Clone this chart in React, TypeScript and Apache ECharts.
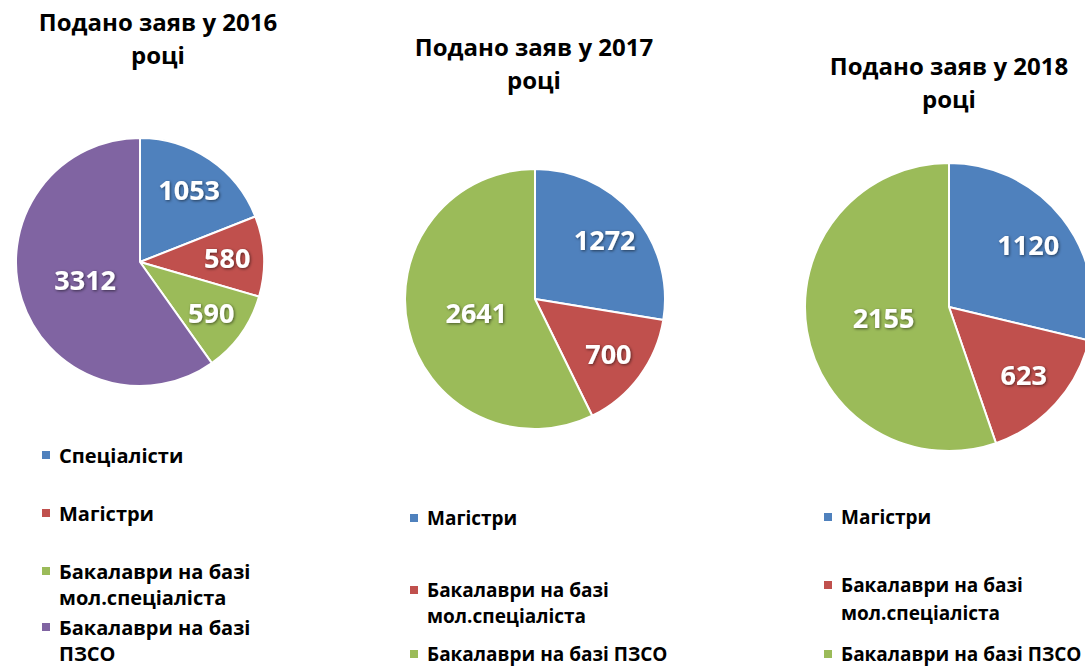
import React, { useEffect, useRef } from "react";
import * as echarts from "echarts";

// ---------- data ----------
const titles = ["Подано заяв у 2016\nроці", "Подано заяв у 2017\nроці", "Подано заяв у 2018\nроці"];

const categories2016 = ["Спеціалісти", "Магістри", "Бакалаври на базі мол.спеціаліста", "Бакалаври на базі ПЗСО"];
const values2016 = [1053, 580, 590, 3312];
const legendLines2016 = [["Спеціалісти"], ["Магістри"], ["Бакалаври на базі", "мол.спеціаліста"], ["Бакалаври на базі", "ПЗСО"]];

const categories2017 = ["Магістри", "Бакалаври на базі мол.спеціаліста", "Бакалаври на базі ПЗСО"];
const values2017 = [1272, 700, 2641];
const legendLines2017 = [["Магістри"], ["Бакалаври на базі", "мол.спеціаліста"], ["Бакалаври на базі ПЗСО"]];

const categories2018 = ["Магістри", "Бакалаври на базі мол.спеціаліста", "Бакалаври на базі ПЗСО"];
const values2018 = [1120, 623, 2155];
const legendLines2018 = [["Магістри"], ["Бакалаври на базі", "мол.спеціаліста"], ["Бакалаври на базі ПЗСО"]];

// ---------- styles / layout ----------
const colors4 = ["#4F81BD", "#C0504D", "#9BBB59", "#8064A2"];
const colors3 = ["#4F81BD", "#C0504D", "#9BBB59"];
const FONT = "'Open Sans', 'Noto Sans', 'DejaVu Sans', sans-serif";

type Panel = {
  left: number; width: number;
  categories: string[]; values: number[]; legendLines: string[][]; colors: string[]; title: string;
  center: [number, number]; r: number;
  titleX: number; titleTop: number; titleLH: number;
  iconX: number; legendCenters: number[]; legendLH: number; legendFont: number;
};

const panels: Panel[] = [
  {
    left: 0, width: 362, categories: categories2016, values: values2016, legendLines: legendLines2016,
    colors: colors4, title: titles[0], center: [140, 262], r: 124,
    titleX: 158, titleTop: 5, titleLH: 33, iconX: 40, legendCenters: [455, 513, 571, 627], legendLH: 26, legendFont: 20,
  },
  {
    left: 362, width: 362, categories: categories2017, values: values2017, legendLines: legendLines2017,
    colors: colors3, title: titles[1], center: [173, 299], r: 130,
    titleX: 172, titleTop: 30, titleLH: 33, iconX: 46, legendCenters: [518, 590, 654], legendLH: 26, legendFont: 19,
  },
  {
    left: 724, width: 361, categories: categories2018, values: values2018, legendLines: legendLines2018,
    colors: colors3, title: titles[2], center: [225, 307], r: 144,
    titleX: 225, titleTop: 49, titleLH: 33, iconX: 98, legendCenters: [517, 585, 654], legendLH: 28, legendFont: 19,
  },
];

function buildOption(p: Panel) {
  const total = p.values.reduce((a, b) => a + b, 0);
  const labelStyle = {
    position: "inside",
    color: "#fff",
    fontFamily: FONT,
    fontWeight: "bold",
    fontSize: 27,
    textShadowColor: "rgba(0,0,0,0.55)",
    textShadowBlur: 3,
    textShadowOffsetX: 1,
    textShadowOffsetY: 1,
    formatter: "{c}",
  };
  const ghostData = (big: boolean) =>
    p.categories.map((name, i) => ({
      name,
      value: p.values[i],
      label: { show: (p.values[i] / total >= 0.5) === big },
    }));
  const ghostBase = {
    type: "pie",
    silent: true,
    center: p.center,
    startAngle: 90,
    clockwise: true,
    itemStyle: { color: "rgba(0,0,0,0)", borderWidth: 0 },
    label: labelStyle,
    labelLine: { show: false },
    emphasis: { disabled: true },
    tooltip: { show: false },
  };
  return {
    animation: false,
    color: p.colors,
    title: {
      text: p.title,
      left: p.titleX,
      top: p.titleTop,
      textAlign: "center",
      padding: 0,
      textStyle: { fontFamily: FONT, fontWeight: "bold", fontSize: 24, lineHeight: p.titleLH, color: "#000" },
    },
    legend: p.categories.map((name, i) => {
      const lines = p.legendLines[i];
      const n = lines.length;
      const lh = p.legendLH;
      // leading blank lines keep the first text line level with the marker
      const text = "\n".repeat(n - 1) + lines.join("\n");
      return {
        data: [name],
        left: p.iconX,
        top: p.legendCenters[i] - ((2 * n - 1) * lh) / 2,
        padding: 0,
        icon: "rect",
        itemWidth: 10,
        itemHeight: 10,
        selectedMode: false,
        formatter: () => text,
        textStyle: {
          fontFamily: FONT,
          fontWeight: "bold",
          fontSize: p.legendFont,
          color: "#000",
          lineHeight: lh,
          padding: [0, 0, 0, 3],
        },
      };
    }),
    series: [
      {
        type: "pie",
        center: p.center,
        radius: p.r,
        startAngle: 90,
        clockwise: true,
        label: { show: false },
        labelLine: { show: false },
        itemStyle: { borderColor: "#fff", borderWidth: 2 },
        emphasis: { scale: false },
        data: p.categories.map((name, i) => ({ name, value: p.values[i] })),
      },
      { ...ghostBase, radius: [p.r * 0.36, p.r], data: ghostData(false) },
      { ...ghostBase, radius: [0, p.r * 0.88], data: ghostData(true) },
    ],
  };
}

function PieChart({ panel }: { panel: Panel }) {
  const ref = useRef<HTMLDivElement>(null);
  useEffect(() => {
    if (!ref.current) return;
    const chart = echarts.init(ref.current, null, { renderer: "svg" });
    chart.setOption(buildOption(panel) as any);
    return () => chart.dispose();
  }, [panel]);
  return (
    <div
      ref={ref}
      style={{ position: "absolute", left: panel.left, top: 0, width: panel.width, height: 666 }}
    />
  );
}

export default function App() {
  return (
    <div
      style={{
        position: "fixed",
        left: 0,
        top: 0,
        width: 1085,
        height: 666,
        overflow: "hidden",
        background: "#fff",
      }}
    >
      {panels.map((p, i) => (
        <PieChart key={i} panel={p} />
      ))}
    </div>
  );
}
